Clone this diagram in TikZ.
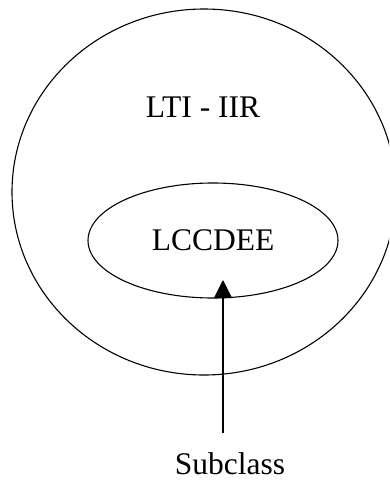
\documentclass[tikz,border=0pt]{standalone}
\usepackage{fontspec}
\setmainfont{Liberation Serif}
\usetikzlibrary{shapes.geometric,arrows.meta,positioning}

\begin{document}
\begin{tikzpicture}[
    x=1pt, y=-1pt,
    classset/.style={ellipse, draw=black, line width=1.1pt, inner sep=0pt},
    label_text/.style={font=\fontsize{31.5}{36}\selectfont, inner sep=0pt},
    subarrow/.style={-{Triangle[width=18pt,length=18pt]}, line width=1.1pt}
]

% Picture frame
\useasboundingbox (0,0) rectangle (389,480);
\clip (0,0) rectangle (389,480);

% --- Outer class ---
\node[classset, minimum width=384pt, minimum height=366pt] (IIR) at (204,192) {};
\node[label_text, anchor=base] (IIRlabel) at (203,117) {LTI - IIR};

% --- Inner class ---
\node[classset, label_text, minimum width=250pt, minimum height=115pt] (LCCDEE) at (213,240.5) {LCCDEE};

% Pointer
\node[label_text, anchor=base] (Sub) at (230,474) {Subclass};
\coordinate (SubTail) at (223,433);
\coordinate (SubTip) at (223,280);
\draw[subarrow] (SubTail) -- (SubTip);

\end{tikzpicture}
\end{document}
